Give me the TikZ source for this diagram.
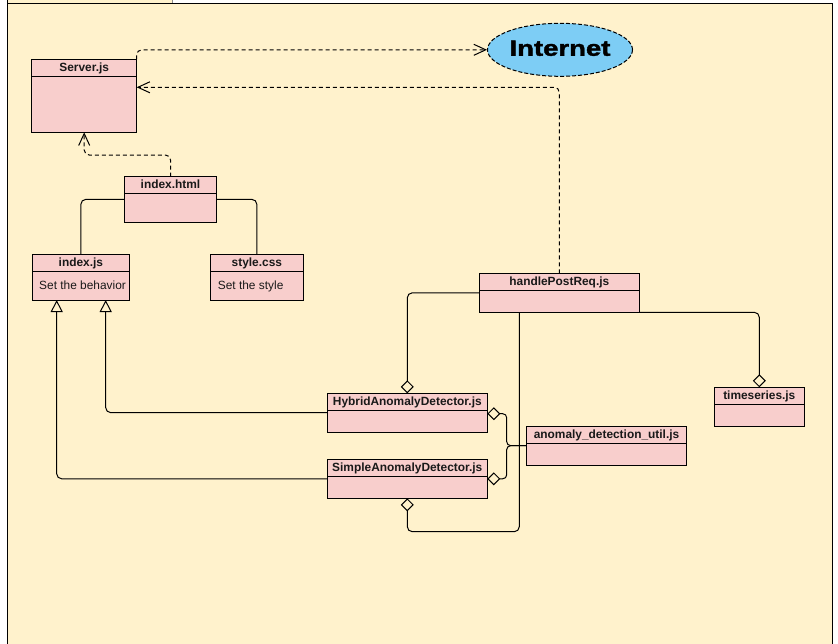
\documentclass[tikz,border=0pt]{standalone}
\usepackage{fontspec}
\setmainfont{Liberation Sans}
\newfontfamily\heavyfont[FakeBold=1.5]{Liberation Sans}
\usetikzlibrary{arrows.meta,shapes.geometric,calc}
\definecolor{cream}{HTML}{FFF2CC}
\definecolor{pinkfill}{HTML}{F8CECC}
\definecolor{skyfill}{RGB}{125,205,245}
\tikzset{
 cbox/.style={draw=black, fill=pinkfill, line width=1pt, inner sep=0pt, outer sep=0pt, anchor=north west},
 cline/.style={line width=1pt},
 ctitle/.style={font=\fontsize{11.9}{13}\selectfont\bfseries, inner sep=0pt, text=black!90, anchor=base},
 cbody/.style={font=\fontsize{11.9}{13}\selectfont, inner sep=0pt, anchor=base west, text=black!90},
 conn/.style={line width=1pt, rounded corners=5pt},
 dep/.style={conn, dash pattern=on 4pt off 3pt, -{Straight Barb[length=12pt,width=11pt]}},
 gen/.style={conn, -{Triangle[open,length=12pt,width=12pt]}},
 agg/.style={conn, {Diamond[open,length=13pt,width=13pt]}-},
 assoc/.style={conn},
}
\newcommand\classbox[8]{%
  \node[cbox, minimum width=#4pt, minimum height=#5pt] (#1) at (#2,#3) {};
  \draw[cline] ([yshift=-#6pt]#1.north west) -- ([yshift=-#6pt]#1.north east);
  \node[ctitle] (#1-t) at ([yshift=-11.8pt]#1.north) {#7};
}
\begin{document}
\begin{tikzpicture}[x=1pt,y=-1pt]
\useasboundingbox (0,0) rectangle (838,643);
\fill[white] (0,0) rectangle (838,643);
% frame
\fill[cream] (7.5,3.3) rectangle (832,660);
\fill[cream] (7.5,-2) rectangle (172,3.3);
\draw[line width=1pt] (7.5,-2) -- (7.5,660);
\draw[line width=1pt] (832,660) -- (832,3.3) -- (7.5,3.3);
\draw[line width=1pt, black!45] (172,-2) -- (172,3.3);

% classes
\classbox{server}{31.7}{59.3}{105}{73}{16.7}{Server.js}{}
\classbox{html}{124.3}{176.7}{92.4}{45.3}{16.3}{index.html}{}
\classbox{indexjs}{32}{254.7}{97.7}{45.3}{16.3}{index.js}{}
\classbox{style}{210.7}{254.7}{92.3}{45.3}{16.3}{style.css}{}
\classbox{handle}{479.3}{273.3}{160}{39}{16.7}{handlePostReq.js}{}
\classbox{hybrid}{327.3}{393.3}{160}{38.7}{17}{HybridAnomalyDetector.js}{}
\classbox{simple}{327.3}{459.3}{160}{39}{17}{SimpleAnomalyDetector.js}{}
\classbox{util}{526.3}{426.3}{160.4}{38.7}{17.4}{anomaly\_detection\_util.js}{}
\classbox{ts}{714.3}{387.3}{90}{39}{16.7}{timeseries.js}{}

\node[cbody] (indexjs-b) at ([xshift=7pt,yshift=-34.6pt]indexjs.north west) {Set the behavior};
\node[cbody] (style-b) at ([xshift=7pt,yshift=-34.6pt]style.north west) {Set the style};

% internet
\node[ellipse, draw, line width=1pt, dash pattern=on 4pt off 2pt, fill=skyfill,
      minimum width=145pt, minimum height=53pt, inner sep=0pt]
      (internet) at (560,49.8) {};
\node[inner sep=0pt, font=\heavyfont\bfseries\fontsize{22}{22}\selectfont] (internet-t)
      at ([yshift=1.5pt]internet.center) {\scalebox{1.25}[1]{Internet}};

% dependencies (dashed)
\draw[dep] (server.north east) |- (internet.west);
\draw[dep] (handle.north) |- ($(server.north east)+(0,28)$);
\draw[dep] (html.north) -- ++(0,-21.7) -| (server.south);

% associations
\draw[assoc] (html.west) -| (indexjs.north);
\draw[assoc] (html.east) -| (style.north);

% generalizations
\draw[gen] (hybrid.west) -| ($(indexjs.south east)+(-24,0)$);
\draw[gen] (simple.west) -| ($(indexjs.south west)+(24.7,0)$);

% aggregations
\draw[agg] (hybrid.north) |- (handle.west);
\draw[agg] (simple.south) -- ++(0,33.4) -| ($(handle.south west)+(40,0)$);
\draw[agg] (ts.north) |- (handle.south east);
\draw[agg, rounded corners=4pt] ($(hybrid.north east)+(0,20.4)$) -| ($(util.west)+(-19.6,0)$) -- (util.west);
\draw[agg, rounded corners=4pt] (simple.east) -| ($(util.west)+(-19.6,0)$) -- (util.west);
\end{tikzpicture}
\end{document}
